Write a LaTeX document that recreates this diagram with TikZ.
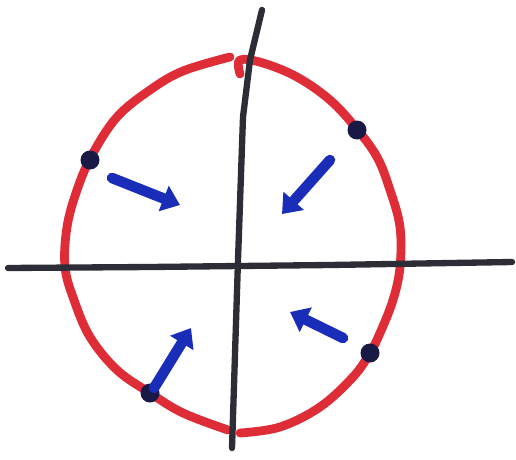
\documentclass[tikz,border=0pt]{standalone}
\usepackage{tikz}
\usetikzlibrary{arrows.meta}
\definecolor{penred}{RGB}{222,45,55}
\definecolor{penblack}{RGB}{45,45,55}
\definecolor{penblue}{RGB}{25,45,185}
\definecolor{pendot}{RGB}{25,25,70}
\begin{document}
\begin{tikzpicture}[x=0.02cm,y=-0.02cm,
	ring/.style={penred, line width=5pt, line cap=round, line join=round},
	axis/.style={penblack, line width=3.6pt, line cap=round, line join=round},
	flow/.style={penblue, line width=6pt, line cap=round,
		-{Triangle[length=10pt,width=15pt]}},
	dot/.style={fill=pendot}]
	\useasboundingbox (0,0) rectangle (516,459);
	% the circle, drawn in two halves
	\draw [ring] plot [smooth, tension=0.6] coordinates {(230,57) (183,71) (150,90) (117,117)
		(92,155) (77,190) (67,227) (65,267) (74,300) (90,337) (117,370) (150,393)
		(183,413) (228,430)};
	\draw [ring] plot [smooth, tension=0.6] coordinates {(240,74) (240,60) (263,63) (297,77)
		(330,100) (356,128) (377,157) (390,190) (400,227) (400,267) (393,300) (380,333)
		(370,353) (353,377) (320,407) (280,427) (240,433)};
	% axes
	\draw [axis] (8,268) -- (150,267) -- (330,265) -- (512,262);
	\draw [axis] (262,10) -- (250,60) -- (243,117) -- (238,260) -- (232,448);
	% points on the circle
	\coordinate (p1) at (90,160);
	\coordinate (p2) at (357,130);
	\coordinate (p3) at (370,353);
	\coordinate (p4) at (150,393);
	\foreach \p in {p1,p2,p3,p4}
		\fill [dot] (\p) circle (9.5);
	% arrows pointing inward
	\coordinate (a1) at (112,178);
	\coordinate (b1) at (180,205);
	\coordinate (a2) at (330,160);
	\coordinate (b2) at (282,214);
	\coordinate (a3) at (154,388);
	\coordinate (b3) at (191,328);
	\coordinate (a4) at (343,338);
	\coordinate (b4) at (290,312);
	\draw [flow] (a1) -- (b1);
	\draw [flow] (a2) -- (b2);
	\draw [flow] (a3) -- (b3);
	\draw [flow] (a4) -- (b4);
\end{tikzpicture}
\end{document}
